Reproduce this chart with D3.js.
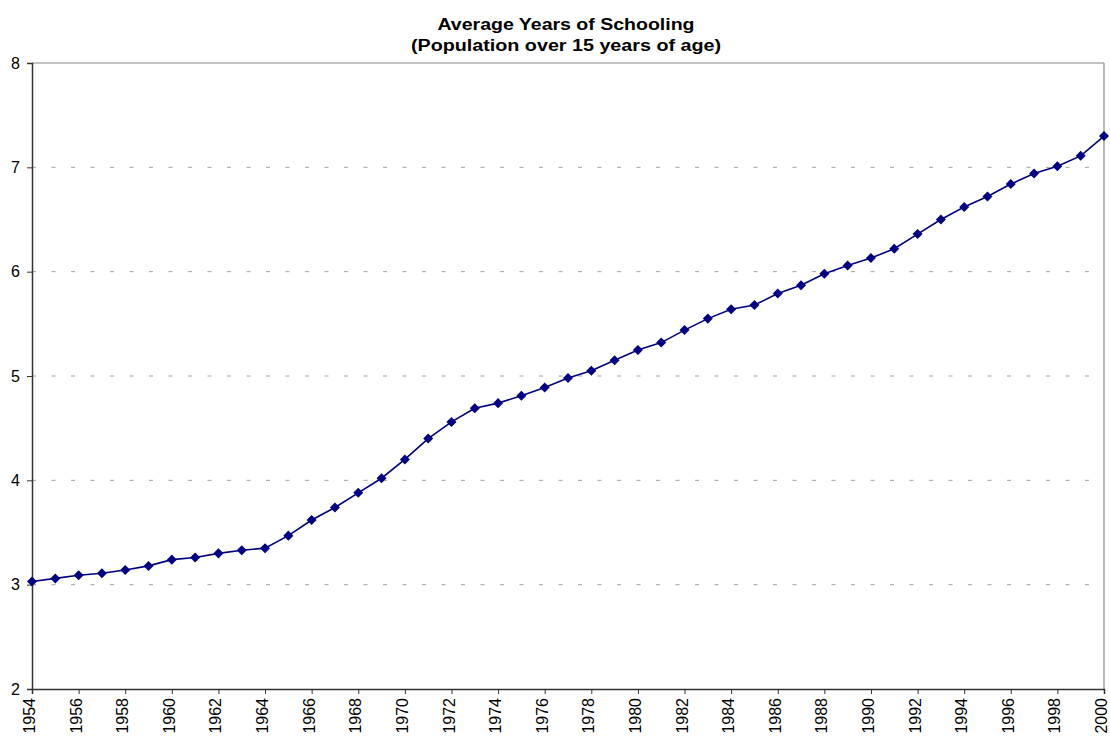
<!DOCTYPE html>
<html><head><meta charset="utf-8">
<script src="https://cdn.jsdelivr.net/npm/d3@7"></script>
<style>body{margin:0;background:#fff}svg{display:block}text{font-family:"Liberation Sans",Arial,sans-serif}</style>
</head><body><svg id="c" width="1110" height="742"></svg>
<script>
const years = d3.range(1954, 2001);
const schooling = [3.03,3.06,3.09,3.11,3.14,3.18,3.24,3.26,3.30,3.33,3.35,3.47,3.62,3.74,3.88,4.02,4.20,4.40,4.56,4.69,4.74,4.81,4.89,4.98,5.05,5.15,5.25,5.32,5.44,5.55,5.64,5.68,5.79,5.87,5.98,6.06,6.13,6.22,6.36,6.50,6.62,6.72,6.84,6.94,7.01,7.11,7.30];
const yTicks = [2,3,4,5,6,7,8];
const xTicks = d3.range(1954, 2001, 2);
const titleLines = ["Average Years of Schooling", "(Population over 15 years of age)"];

const svg = d3.select("#c");
const L = 32, R = 1104, T = 63, B = 689;
const x = d3.scaleLinear().domain([1954, 2000]).range([L, R]);
const y = d3.scaleLinear().domain([2, 8]).range([B, T]);

// title
const titleW = [257, 310];
svg.append("g").selectAll("text").data(titleLines).join("text")
  .attr("x", 566).attr("y", (d,i)=>30 + i*21)
  .attr("text-anchor","middle").attr("font-size","16px").attr("font-weight","bold")
  .attr("textLength",(d,i)=>titleW[i]).attr("lengthAdjust","spacingAndGlyphs").text(d=>d);

// gridlines
svg.append("g").selectAll("line").data(yTicks.filter(v=>v>2 && v<8)).join("line")
  .attr("x1", L).attr("x2", R).attr("y1", d=>y(d)).attr("y2", d=>y(d))
  .attr("stroke", "#a0a0a0").attr("stroke-dasharray","4,15.5").attr("stroke-width",1);
// top and right borders
svg.append("line").attr("x1",L).attr("x2",R).attr("y1",y(8)).attr("y2",y(8)).attr("stroke","#888").attr("stroke-width",1.2);
svg.append("line").attr("x1",R).attr("x2",R).attr("y1",y(8)).attr("y2",y(2)).attr("stroke","#888").attr("stroke-width",1.2);

// y axis
const ya = svg.append("g").attr("transform",`translate(${L},0)`)
  .call(d3.axisLeft(y).tickValues(yTicks).tickSize(5).tickPadding(7).tickFormat(d3.format("d")));
ya.select(".domain").attr("stroke","#333").attr("stroke-width",1.5);
ya.selectAll(".tick line").attr("stroke","#333");
ya.selectAll("text").attr("font-size","16px").attr("fill","#000").attr("font-family","Liberation Sans, Arial, sans-serif");

// x axis
const xa = svg.append("g").attr("transform",`translate(0,${B})`)
  .call(d3.axisBottom(x).tickValues(xTicks).tickSize(5).tickFormat(d3.format("d")));
xa.select(".domain").attr("stroke","#333").attr("stroke-width",1.5);
xa.selectAll(".tick line").attr("stroke","#333");
xa.selectAll("text").attr("font-size","16px").attr("fill","#000").attr("font-family","Liberation Sans, Arial, sans-serif")
  .attr("transform","rotate(-90)").attr("text-anchor","end").attr("x",-9).attr("y",0).attr("dy","0.16em");

// line
const data = years.map((yr,i)=>({yr, v: schooling[i]}));
svg.append("path").datum(data)
  .attr("fill","none").attr("stroke","#000080").attr("stroke-width",1.6)
  .attr("d", d3.line().x(d=>x(d.yr)).y(d=>y(d.v)));
svg.append("g").selectAll("path").data(data).join("path")
  .attr("transform", d=>`translate(${x(d.yr)},${y(d.v)})`)
  .attr("d", d3.symbol(d3.symbolDiamond2, 64)())
  .attr("fill","#000080");
</script></body></html>
